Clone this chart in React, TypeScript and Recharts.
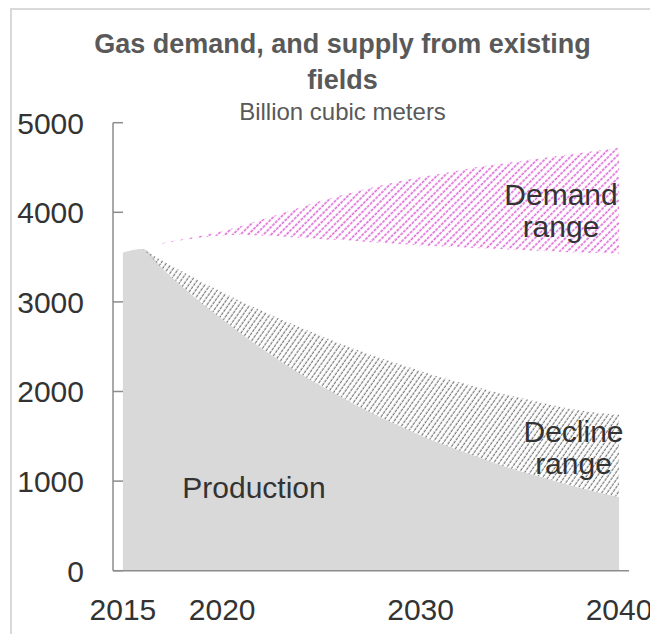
import React from "react";
import { ComposedChart, Area, XAxis, YAxis } from "recharts";

// values (billion cubic meters)
const years = [
  2015, 2016, 2017, 2018, 2019, 2020, 2021, 2022, 2023, 2024, 2025, 2026, 2027,
  2028, 2029, 2030, 2031, 2032, 2033, 2034, 2035, 2036, 2037, 2038, 2039, 2040,
];
const production = [
  3550, 3590, 3370, 3170, 2980, 2810, 2640, 2480, 2330, 2190, 2060, 1940, 1820,
  1710, 1610, 1510, 1420, 1340, 1260, 1180, 1110, 1050, 985, 925, 870, 822,
];
const declineHigh = [
  null, 3590, 3460, 3340, 3220, 3110, 3000, 2900, 2800, 2710, 2620, 2530, 2450,
  2370, 2300, 2230, 2160, 2100, 2040, 1980, 1930, 1880, 1830, 1790, 1760, 1740,
];
const demandLow = [
  null, null, 3650, 3690, 3720, 3740, 3750, 3740, 3730, 3715, 3700, 3690, 3675,
  3660, 3645, 3630, 3620, 3610, 3600, 3590, 3580, 3570, 3560, 3550, 3545, 3540,
];
const demandHigh = [
  null, null, 3660, 3700, 3740, 3790, 3850, 3920, 3990, 4060, 4130, 4190, 4250,
  4300, 4350, 4390, 4430, 4470, 4510, 4540, 4570, 4600, 4630, 4660, 4690, 4720,
];
const xTicks = [2015, 2020, 2030, 2040];
const yTicks = [0, 1000, 2000, 3000, 4000, 5000];

type Row = {
  year: number;
  production: number;
  declineHigh: number | null;
  demandLow: number | null;
  demandHigh: number | null;
};

const data: Row[] = years.map((year, i) => ({
  year,
  production: production[i],
  declineHigh: declineHigh[i],
  demandLow: demandLow[i],
  demandHigh: demandHigh[i],
}));

const FONT = "'Liberation Sans', Arial, sans-serif";
const AXIS = "#8c8c8c";
const TEXT = "#333333";

const XTick = (props: any) => {
  const { x, y, payload } = props;
  return (
    <text x={x} y={y + 26} dy="0.71em" textAnchor="middle" fill={TEXT} fontSize={30} fontFamily={FONT}>
      {payload.value}
    </text>
  );
};

const YTick = (props: any) => {
  const { x, y, payload } = props;
  return (
    <g>
      <line x1={x} y1={y} x2={x + 10} y2={y} stroke={AXIS} strokeWidth={1.5} />
      <text x={x - 29} y={y} dy="0.36em" textAnchor="end" fill={TEXT} fontSize={30} fontFamily={FONT}>
        {payload.value}
      </text>
    </g>
  );
};

export default function App() {
  return (
    <div style={{ position: "relative", width: 642, height: 626 }}>
      {/* outer frame */}
      <div
        style={{
          position: "absolute",
          left: 2,
          top: 0,
          width: 646,
          height: 630,
          borderTop: "2px solid #d9d9d9",
          borderLeft: "2px solid #d9d9d9",
          borderBottom: "2px solid #d9d9d9",
        }}
      />
      <svg width={0} height={0} style={{ position: "absolute" }}>
        <defs>
          <pattern id="hatchGray" width={4.4} height={4} patternUnits="userSpaceOnUse" patternTransform="rotate(35)">
            <line x1={1.2} y1={0} x2={1.2} y2={3.2} stroke="#7a7a7a" strokeWidth={1.2} />
          </pattern>
          <pattern id="hatchPink" width={5.4} height={4} patternUnits="userSpaceOnUse" patternTransform="rotate(45)">
            <line x1={1.2} y1={0} x2={1.2} y2={3} stroke="#de68d8" strokeWidth={1.6} />
          </pattern>
        </defs>
      </svg>
      <div style={{ position: "absolute", left: -8, top: -8 }}>
        <ComposedChart
          width={658}
          height={642}
          data={data}
          margin={{ top: 122.7, right: 29, bottom: 31.3, left: 0 }}
        >
          <XAxis
            dataKey="year"
            type="number"
            domain={[2014.5, 2040.5]}
            ticks={xTicks}
            interval={0}
            height={40}
            tickLine={false}
            tickSize={0}
            axisLine={{ stroke: AXIS, strokeWidth: 1.5 }}
            tick={<XTick />}
          />
          <YAxis
            type="number"
            domain={[0, 5000]}
            ticks={yTicks}
            interval={0}
            width={113}
            tickLine={false}
            tickSize={0}
            tickMargin={0}
            axisLine={{ stroke: AXIS, strokeWidth: 1.5 }}
            tick={<YTick />}
          />
          <Area
            dataKey="production"
            type="monotone"
            stroke="none"
            fill="#d9d9d9"
            fillOpacity={1}
            isAnimationActive={false}
          />
          <Area
            dataKey={(d: Row) => (d.declineHigh == null ? null : [d.production, d.declineHigh])}
            type="monotone"
            stroke="none"
            fill="url(#hatchGray)"
            fillOpacity={1}
            isAnimationActive={false}
          />
          <Area
            dataKey={(d: Row) => (d.demandHigh == null ? null : [d.demandLow, d.demandHigh])}
            type="monotone"
            stroke="none"
            fill="url(#hatchPink)"
            fillOpacity={1}
            isAnimationActive={false}
          />
        </ComposedChart>
      </div>
      <svg
        width={658}
        height={642}
        style={{ position: "absolute", left: -8, top: -8, pointerEvents: "none" }}
        fontFamily={FONT}
      >
        <text x={342.5} y={53} textAnchor="middle" fontSize={27} fontWeight="bold" fill="#595959">
          Gas demand, and supply from existing
        </text>
        <text x={342.5} y={89} textAnchor="middle" fontSize={27} fontWeight="bold" fill="#595959">
          fields
        </text>
        <text x={342.5} y={120} textAnchor="middle" fontSize={24} fill="#595959">
          Billion cubic meters
        </text>
        <text x={561} y={205} textAnchor="middle" fontSize={30} fill={TEXT}>
          Demand
        </text>
        <text x={561} y={237} textAnchor="middle" fontSize={30} fill={TEXT}>
          range
        </text>
        <text x={573.5} y={442} textAnchor="middle" fontSize={30} fill={TEXT}>
          Decline
        </text>
        <text x={573.5} y={474} textAnchor="middle" fontSize={30} fill={TEXT}>
          range
        </text>
        <text x={254} y={498} textAnchor="middle" fontSize={30} fill={TEXT}>
          Production
        </text>
      </svg>
    </div>
  );
}
